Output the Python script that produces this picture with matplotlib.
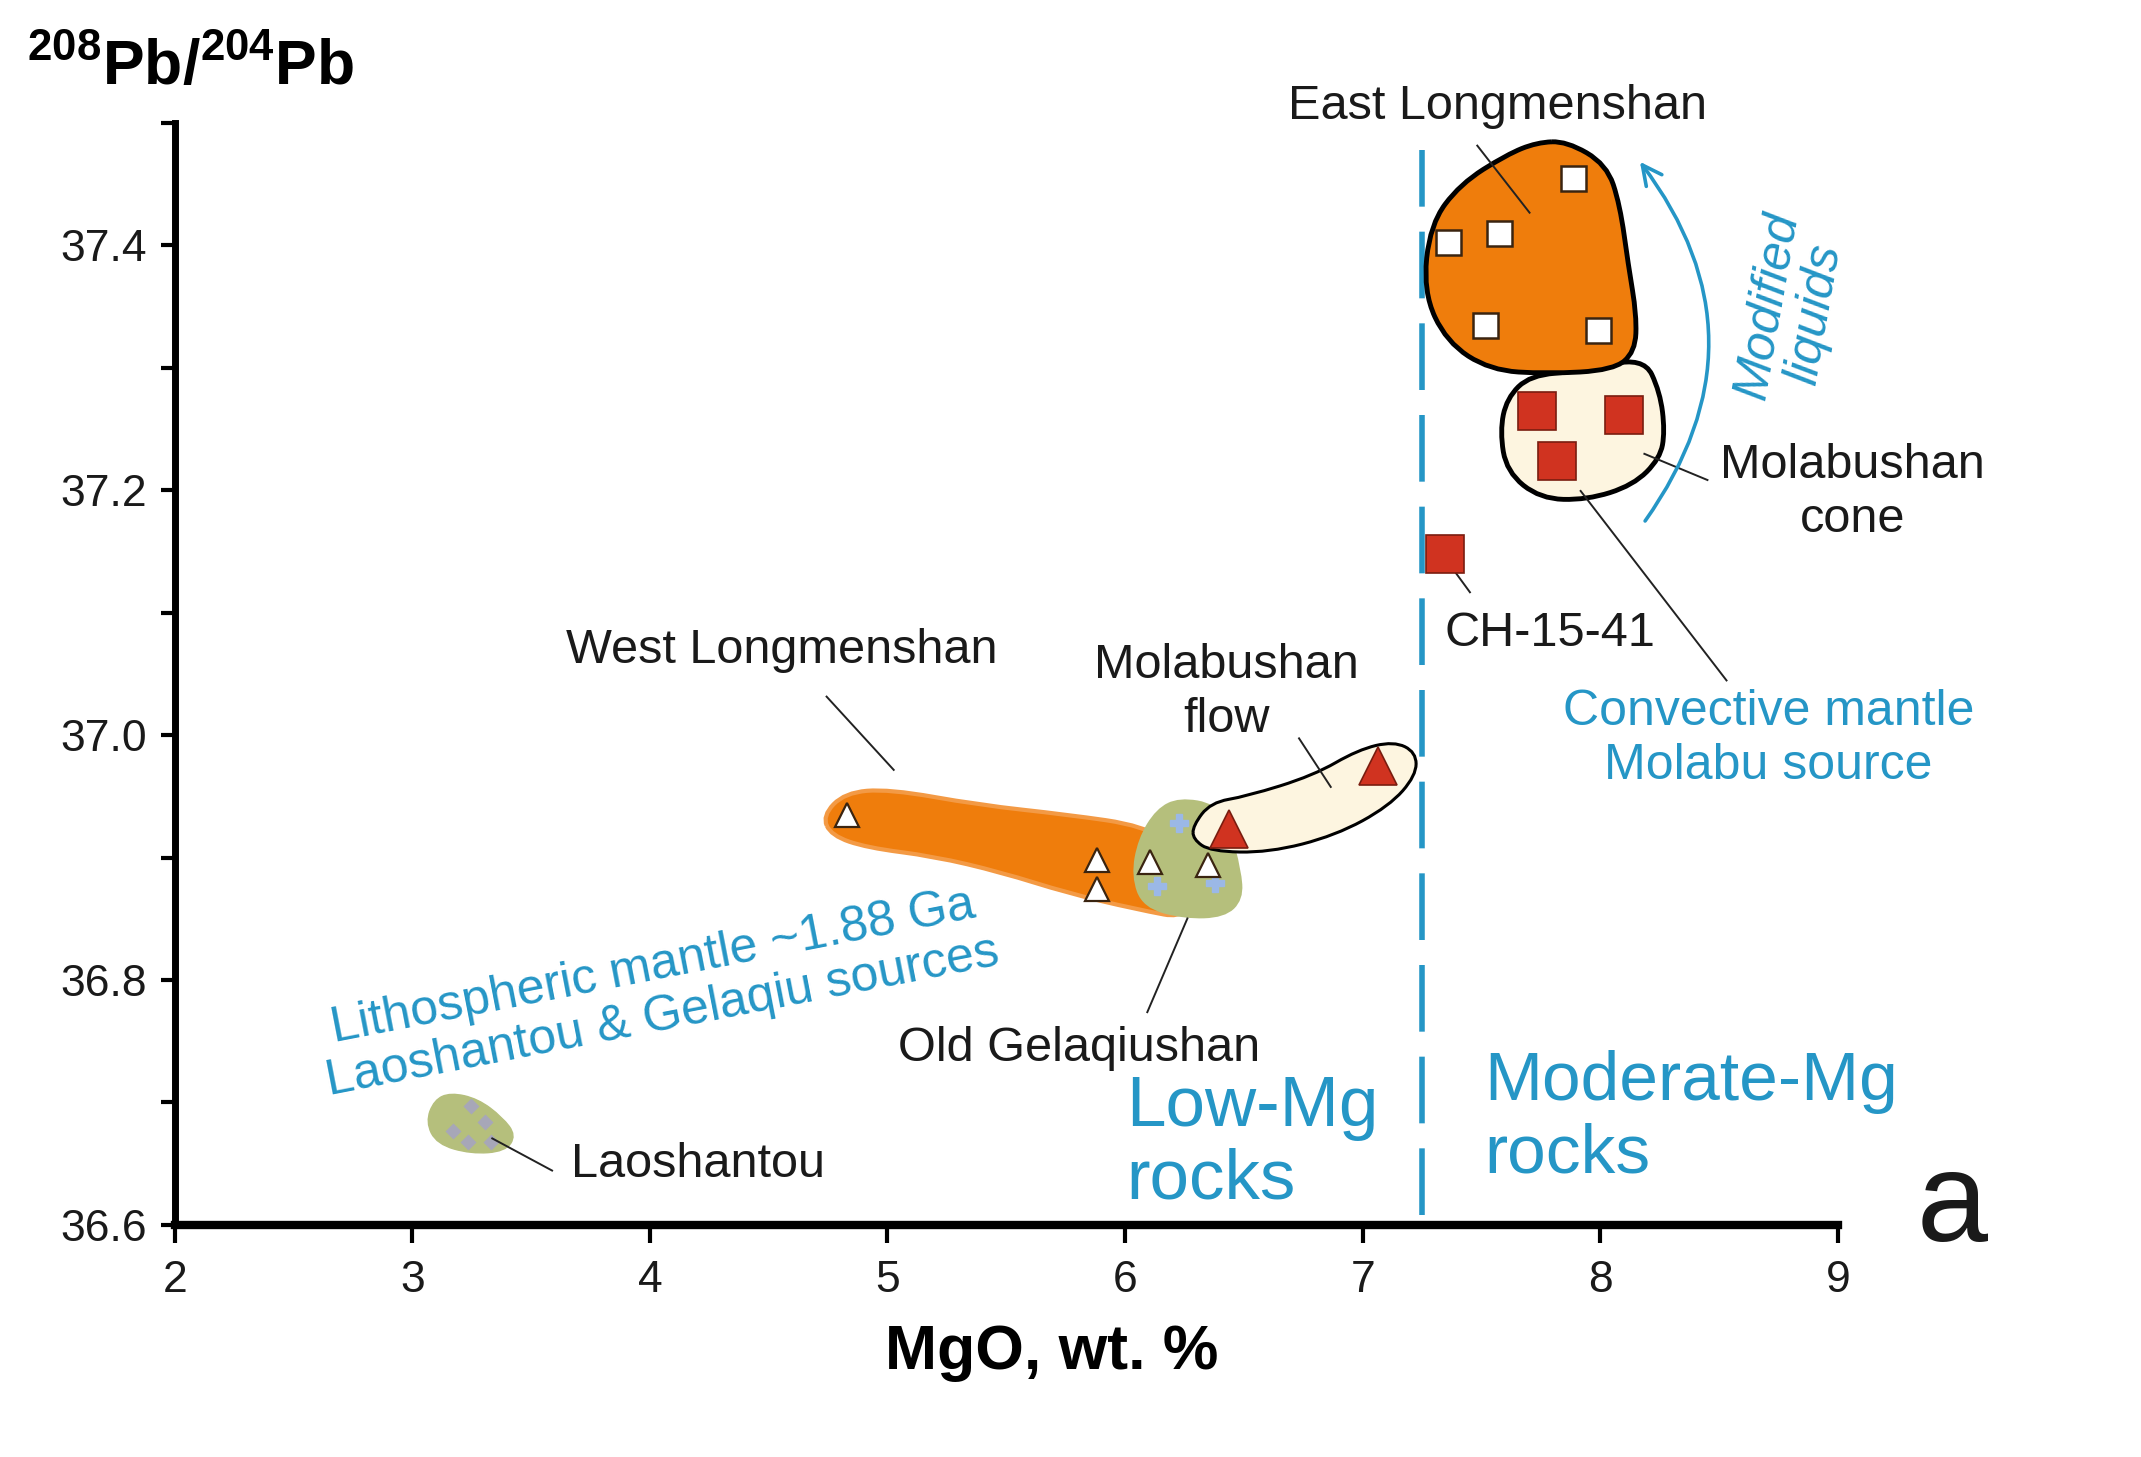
import numpy as np
import matplotlib
matplotlib.use("Agg")
import matplotlib.pyplot as plt
from matplotlib.path import Path
from matplotlib.patches import PathPatch, FancyArrowPatch
import matplotlib.ticker as ticker

plt.rcParams['font.family'] = ['Liberation Sans', 'DejaVu Sans']
plt.rcParams['mathtext.fontset'] = 'custom'
plt.rcParams['mathtext.rm'] = 'Liberation Sans'
plt.rcParams['mathtext.bf'] = 'Liberation Sans:bold'

BLUE = '#2596c6'
ORANGE = '#ef7d0c'
CREAM = '#fdf5e0'
GREEN = '#b5bf7c'
RED = '#d03320'
INK = '#1a1a1a'

# --- data (MgO wt.%, 208Pb/204Pb) ---
east_lms_x = [7.884, 7.361, 7.574, 7.515, 7.992]
east_lms_y = [37.455, 37.403, 37.410, 37.335, 37.331]

cone_x = [7.733, 8.102, 7.817]
cone_y = [37.265, 37.261, 37.224]

ch1541_x = [7.347]
ch1541_y = [37.148]

flow_x = [7.065, 6.436]
flow_y = [36.975, 36.923]

west_lms_x = [4.829, 5.882, 5.882, 6.107, 6.351]
west_lms_y = [36.935, 36.898, 36.874, 36.896, 36.894]

gelaqiu_x = [6.229, 6.135, 6.379]
gelaqiu_y = [36.928, 36.877, 36.879]

laoshantou_x = [3.247, 3.305, 3.172, 3.333, 3.235]
laoshantou_y = [36.697, 36.684, 36.677, 36.668, 36.668]

# field outlines
east_field_x = [7.859, 8.027, 8.083, 8.118, 8.153, 8.147, 8.055, 7.775, 7.536, 7.353, 7.255, 7.284, 7.410, 7.606, 7.733]
east_field_y = [37.485, 37.466, 37.433, 37.384, 37.343, 37.313, 37.298, 37.295, 37.298, 37.321, 37.362, 37.417, 37.450, 37.474, 37.484]

cone_field_x = [8.182, 8.252, 8.272, 8.252, 8.139, 7.943, 7.747, 7.606, 7.578, 7.606, 7.705, 7.915]
cone_field_y = [37.309, 37.280, 37.248, 37.226, 37.204, 37.192, 37.193, 37.215, 37.248, 37.275, 37.294, 37.297]

west_field_x = [4.726, 4.820, 5.007, 5.383, 5.759, 6.079, 6.264, 6.286, 6.041, 5.759, 5.478, 5.195, 4.914, 4.763]
west_field_y = [36.934, 36.953, 36.956, 36.943, 36.935, 36.926, 36.904, 36.849, 36.858, 36.871, 36.888, 36.901, 36.908, 36.918]

gelaqiu_field_x = [6.229, 6.379, 6.436, 6.483, 6.492, 6.417, 6.248, 6.079, 6.032, 6.060, 6.135]
gelaqiu_field_y = [36.948, 36.943, 36.923, 36.890, 36.866, 36.852, 36.851, 36.860, 36.885, 36.915, 36.939]

flow_field_x = [6.286, 6.360, 6.511, 6.793, 6.980, 7.131, 7.225, 7.225, 7.112, 6.886, 6.605, 6.360, 6.286]
flow_field_y = [36.926, 36.945, 36.950, 36.967, 36.988, 36.995, 36.986, 36.967, 36.942, 36.918, 36.904, 36.905, 36.915]

laoshantou_field_x = [3.161, 3.276, 3.379, 3.437, 3.391, 3.247, 3.103, 3.057, 3.092]
laoshantou_field_y = [36.708, 36.703, 36.688, 36.673, 36.660, 36.658, 36.666, 36.684, 36.702]

mg_boundary = 7.25


def blob(ax, xs, ys, **kw):
    # closed smooth outline through midpoints (quadratic bezier)
    p = np.column_stack([xs, ys])
    n = len(p)
    mids = (p + np.roll(p, -1, axis=0)) / 2
    verts = [mids[-1]]
    codes = [Path.MOVETO]
    for i in range(n):
        verts += [p[i], mids[i]]
        codes += [Path.CURVE3, Path.CURVE3]
    patch = PathPatch(Path(verts, codes), **kw)
    ax.add_patch(patch)
    return patch


def leader(ax, x0, y0, x1, y1):
    ax.plot([x0, x1], [y0, y1], color='#222222', lw=1.4, solid_capstyle='butt', zorder=6)


fig = plt.figure(figsize=(21.41, 14.57), dpi=100)
ax = fig.add_axes([0.0816, 0.1593, 0.7768, 0.7564])

# fields
blob(ax, west_field_x, west_field_y, facecolor=ORANGE, edgecolor='#f39a45', lw=3, zorder=2)
blob(ax, gelaqiu_field_x, gelaqiu_field_y, facecolor=GREEN, edgecolor=GREEN, lw=2, zorder=3)
blob(ax, flow_field_x, flow_field_y, facecolor=CREAM, edgecolor='black', lw=2.2, zorder=4)
blob(ax, laoshantou_field_x, laoshantou_field_y, facecolor=GREEN, edgecolor=GREEN, lw=1, zorder=3)
blob(ax, cone_field_x, cone_field_y, facecolor=CREAM, edgecolor='black', lw=3.5, zorder=2)
blob(ax, east_field_x, east_field_y, facecolor=ORANGE, edgecolor='black', lw=3.5, zorder=3)

# symbols
ax.plot(gelaqiu_x, gelaqiu_y, ls='none', marker='P', ms=13, color='#9bb8e6', mec='#9bb8e6', zorder=5)
ax.plot(laoshantou_x, laoshantou_y, ls='none', marker='D', ms=8, color='#a7a7b8', mec='none', zorder=5)
ax.plot(west_lms_x, west_lms_y, ls='none', marker='^', ms=17, mfc='white', mec='#3a2410', mew=1.6, zorder=7)
ax.plot(flow_x, flow_y, ls='none', marker='^', ms=27, mfc=RED, mec='#7a1d10', mew=1.2, zorder=7)
ax.plot(east_lms_x, east_lms_y, ls='none', marker='s', ms=18, mfc='white', mec='#3a2410', mew=1.8, zorder=7)
ax.plot(cone_x, cone_y, ls='none', marker='s', ms=27, mfc=RED, mec='#7a1d10', mew=1.2, zorder=7)
ax.plot(ch1541_x, ch1541_y, ls='none', marker='s', ms=27, mfc=RED, mec='#7a1d10', mew=1.2, zorder=7)

# low / moderate Mg boundary
ax.plot([mg_boundary, mg_boundary], [36.608, 37.478], color=BLUE, lw=4, dashes=(12, 4.5), zorder=1)

# leaders
leader(ax, 7.480, 37.482, 7.705, 37.426)
leader(ax, 8.182, 37.230, 8.455, 37.208)
leader(ax, 7.915, 37.200, 8.534, 37.044)
leader(ax, 7.356, 37.142, 7.454, 37.116)
leader(ax, 4.741, 37.032, 5.029, 36.971)
leader(ax, 6.730, 36.998, 6.868, 36.957)
leader(ax, 6.264, 36.851, 6.092, 36.773)
leader(ax, 3.333, 36.671, 3.592, 36.644)

# modified liquids arrow
arr = FancyArrowPatch((8.182, 37.173), (8.160, 37.470), connectionstyle='arc3,rad=0.37',
                      arrowstyle='->,head_length=14,head_width=7', color=BLUE, lw=2.6, zorder=6)
ax.add_patch(arr)

fs = 35
ax.text(7.569, 37.513, 'East Longmenshan', fontsize=fs, ha='center', va='center', color=INK)
ax.text(9.063, 37.198, 'Molabushan\ncone', fontsize=fs, ha='center', va='center', linespacing=1.25, color=INK)
ax.text(7.787, 37.083, 'CH-15-41', fontsize=fs, ha='center', va='center', color=INK)
ax.text(4.557, 37.069, 'West Longmenshan', fontsize=fs, ha='center', va='center', color=INK)
ax.text(6.425, 37.035, 'Molabushan\nflow', fontsize=fs, ha='center', va='center', linespacing=1.25, color=INK)
ax.text(5.805, 36.744, 'Old Gelaqiushan', fontsize=fs, ha='center', va='center', color=INK)
ax.text(3.667, 36.649, 'Laoshantou', fontsize=fs, ha='left', va='center', color=INK)

ax.text(8.707, 36.997, 'Convective mantle\nMolabu source', fontsize=36, ha='center', va='center',
        linespacing=1.22, color=BLUE)
ax.text(8.805, 37.347, 'Modified\nliquids', fontsize=36, ha='center', va='center', rotation=80,
        style='italic', linespacing=1.05, color=BLUE)
ax.text(4.034, 36.790, 'Lithospheric mantle ~1.88 Ga\nLaoshantou & Gelaqiu sources', fontsize=36,
        ha='center', va='center', rotation=11, rotation_mode='anchor', linespacing=1.15, color=BLUE)
ax.text(6.006, 36.666, 'Low-Mg\nrocks', fontsize=51, ha='left', va='center', linespacing=1.13, color=BLUE)
ax.text(7.511, 36.687, 'Moderate-Mg\nrocks', fontsize=50, ha='left', va='center', linespacing=1.16, color=BLUE)
ax.text(9.483, 36.614, 'a', fontsize=92, ha='center', va='center', color=INK)

# axes styling
ax.set_xlim(2, 9)
ax.set_ylim(36.6, 37.5)
for side in ['top', 'right']:
    ax.spines[side].set_visible(False)
ax.spines['left'].set_linewidth(5)
ax.spines['bottom'].set_linewidth(6)
ax.xaxis.set_major_locator(ticker.MultipleLocator(1))
ax.yaxis.set_major_locator(ticker.FixedLocator([36.6, 36.8, 37.0, 37.2, 37.4]))
ax.yaxis.set_minor_locator(ticker.FixedLocator([36.7, 36.9, 37.1, 37.3, 37.5]))
ax.yaxis.set_major_formatter(ticker.FuncFormatter(lambda v, pos: f'{v:.1f}'))
ax.tick_params(axis='both', which='both', direction='out', width=3, labelsize=32, colors='black',
               labelcolor=INK)
ax.tick_params(axis='y', which='both', length=10, pad=10)
ax.tick_params(axis='x', which='major', length=13, pad=12)

fig.text(0.0128, 0.953, r'$\mathbf{^{208}Pb/^{204}Pb}$', fontsize=45, ha='left', va='center')
fig.text(0.491, 0.072, 'MgO, wt. %', fontsize=45, fontweight='bold', ha='center', va='center')

fig.savefig('out.png', dpi=100, facecolor='white')
